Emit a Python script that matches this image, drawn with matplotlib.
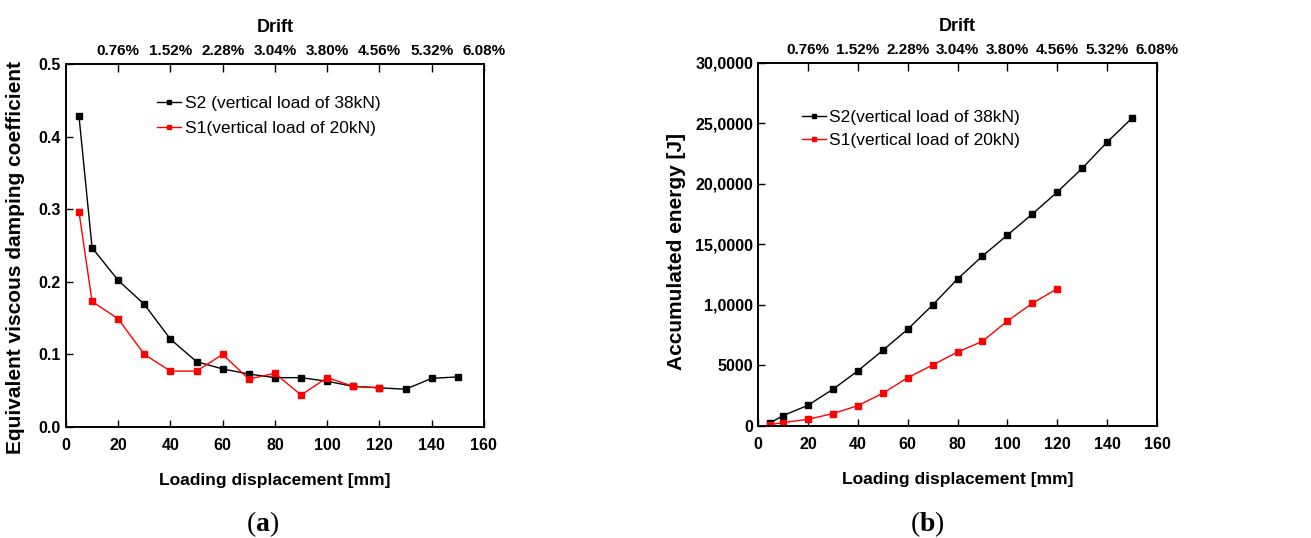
import matplotlib
matplotlib.use('Agg')
import matplotlib.pyplot as plt

plt.rcParams['font.family'] = ['Liberation Sans', 'DejaVu Sans']
plt.rcParams['mathtext.fontset'] = 'custom'
plt.rcParams['mathtext.rm'] = 'Liberation Serif'
plt.rcParams['mathtext.bf'] = 'Liberation Serif:bold'

# damping coefficient (a)
disp_s2 = [5, 10, 20, 30, 40, 50, 60, 70, 80, 90, 100, 110, 120, 130, 140, 150]
damp_s2 = [0.428, 0.247, 0.202, 0.169, 0.121, 0.090, 0.080, 0.073, 0.068, 0.068,
           0.063, 0.056, 0.054, 0.052, 0.067, 0.069]
disp_s1 = [5, 10, 20, 30, 40, 50, 60, 70, 80, 90, 100, 110, 120]
damp_s1 = [0.296, 0.173, 0.149, 0.100, 0.077, 0.077, 0.100, 0.066, 0.074, 0.044,
           0.068, 0.056, 0.054]

# accumulated energy (b)
energy_s2 = [275, 850, 1710, 3030, 4550, 6250, 7990, 10000, 12150, 14050,
             15780, 17520, 19340, 21300, 23470, 25450]
energy_s1 = [110, 275, 555, 1020, 1680, 2700, 3990, 5040, 6115, 7000,
             8680, 10140, 11350]

drift_pos = [20, 40, 60, 80, 100, 120, 140, 160]
drift_labels = ['0.76%', '1.52%', '2.28%', '3.04%', '3.80%', '4.56%', '5.32%', '6.08%']

energy_ticks = [0, 5000, 10000, 15000, 20000, 25000, 30000]
energy_labels = ['0', '5000', '1,0000', '15,0000', '20,0000', '25,0000', '30,0000']

label_s2_a = 'S2 (vertical load of 38kN)'
label_s1_a = 'S1(vertical load of 20kN)'
label_s2_b = 'S2(vertical load of 38kN)'
label_s1_b = 'S1(vertical load of 20kN)'

fig = plt.figure(figsize=(13.11, 5.38), dpi=100)
ax1 = fig.add_axes([0.0503, 0.2063, 0.3188, 0.6747])
ax2 = fig.add_axes([0.5782, 0.2082, 0.3044, 0.6747])


def style(ax, ylabel, ylab_xy):
    ax.set_xlim(0, 160)
    ax.set_xticks(range(0, 161, 20))
    ax.tick_params(direction='in', length=5, width=1, labelsize=11.5)
    ax.tick_params(axis='x', pad=8)
    for lab in ax.get_xticklabels() + ax.get_yticklabels():
        lab.set_fontweight('bold')
    ax.set_xlabel('Loading displacement [mm]', fontsize=12.5, fontweight='bold', labelpad=14)
    ax.set_ylabel(ylabel, fontsize=15, fontweight='bold')
    ax.yaxis.set_label_coords(*ylab_xy)
    top = ax.twiny()
    top.set_xlim(0, 160)
    top.set_xticks(drift_pos)
    top.set_xticklabels(drift_labels, fontweight='bold', fontsize=11)
    top.tick_params(direction='in', length=6, width=1, pad=4)
    top.set_xlabel('Drift', fontsize=13, fontweight='bold', labelpad=9)
    for a in (ax, top):
        for sp in a.spines.values():
            sp.set_linewidth(1.2)


ax1.plot(disp_s2, damp_s2, '-s', color='black', lw=1, ms=5, label=label_s2_a)
ax1.plot(disp_s1, damp_s1, '-s', color='red', lw=1, ms=5, label=label_s1_a)
ax1.set_ylim(0, 0.5)
ax1.set_yticks([0.0, 0.1, 0.2, 0.3, 0.4, 0.5])
ax1.set_yticklabels(['0.0', '0.1', '0.2', '0.3', '0.4', '0.5'])
style(ax1, 'Equivalent viscous damping coefficient', (-0.097, 0.467))
ax1.legend(loc='upper left', bbox_to_anchor=(0.18, 0.955), frameon=False, fontsize=12.5,
           handlelength=1.4, handletextpad=0.2, markerscale=0.7, labelspacing=0.55)

ax2.plot(disp_s2, energy_s2, '-s', color='black', lw=1, ms=5, label=label_s2_b)
ax2.plot(disp_s1, energy_s1, '-s', color='red', lw=1, ms=5, label=label_s1_b)
ax2.set_ylim(0, 30000)
ax2.set_yticks(energy_ticks)
ax2.set_yticklabels(energy_labels)
style(ax2, 'Accumulated energy [J]', (-0.18, 0.48))
ax2.legend(loc='upper left', bbox_to_anchor=(0.07, 0.915), frameon=False, fontsize=12.5,
           handlelength=1.4, handletextpad=0.2, markerscale=0.7, labelspacing=0.5)

fig.text(0.2005, 0.012, r'$(\mathbf{a})$', fontsize=20, ha='center')
fig.text(0.7070, 0.012, r'$(\mathbf{b})$', fontsize=20, ha='center')

fig.savefig('out.png', dpi=100)
